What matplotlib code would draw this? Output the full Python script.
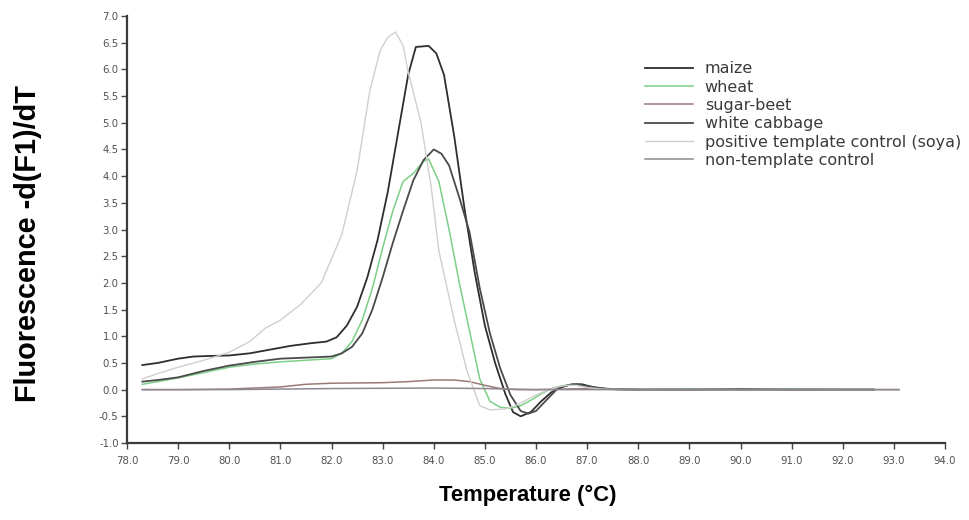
import matplotlib
matplotlib.use("Agg")
import matplotlib.pyplot as plt

# ---------------- data ----------------
maize_t = [78.3, 78.6, 79.0, 79.3, 79.6, 80.0, 80.4, 80.8, 81.2, 81.6, 81.9, 82.1, 82.3, 82.5,
           82.7, 82.9, 83.1, 83.3, 83.5, 83.65, 83.9, 84.05, 84.2, 84.4, 84.6, 84.8, 85.0, 85.2,
           85.4, 85.55, 85.7, 85.9, 86.1, 86.3, 86.5, 86.7, 86.9, 87.1, 87.4, 88.0, 89.0, 90.0,
           91.0, 92.0, 92.6]
maize_v = [0.46, 0.50, 0.58, 0.62, 0.63, 0.64, 0.68, 0.75, 0.82, 0.87, 0.90, 0.98, 1.20, 1.55,
           2.10, 2.80, 3.70, 4.80, 5.90, 6.42, 6.44, 6.30, 5.90, 4.75, 3.40, 2.20, 1.20, 0.50,
           -0.08, -0.42, -0.50, -0.42, -0.22, -0.05, 0.05, 0.10, 0.10, 0.05, 0.01, 0.0, 0.0, 0.01,
           0.0, 0.0, 0.0]

wheat_t = [78.3, 78.6, 79.0, 79.5, 80.0, 80.5, 81.0, 81.5, 82.0, 82.2, 82.4, 82.6, 82.8, 83.0,
           83.2, 83.4, 83.6, 83.8, 83.9, 84.1, 84.3, 84.5, 84.7, 84.9, 85.1, 85.3, 85.5, 85.7,
           85.9, 86.1, 86.3, 86.5, 86.7, 86.9, 87.1, 87.4, 88.0, 89.0, 90.0, 91.0, 92.0, 92.6]
wheat_v = [0.10, 0.15, 0.22, 0.32, 0.42, 0.48, 0.52, 0.55, 0.58, 0.68, 0.90, 1.30, 1.90, 2.65,
           3.35, 3.90, 4.05, 4.28, 4.32, 3.90, 3.00, 2.00, 1.10, 0.20, -0.22, -0.33, -0.35, -0.30,
           -0.20, -0.08, 0.02, 0.07, 0.09, 0.07, 0.03, 0.01, 0.0, 0.01, 0.0, 0.01, 0.0, 0.0]

beet_t = [78.3, 79.0, 80.0, 81.0, 81.5, 82.0, 83.0, 83.5, 84.0, 84.4, 84.7, 85.0, 85.3, 85.6,
          86.0, 87.0, 88.0, 89.0, 90.0, 91.0, 92.0, 93.1]
beet_v = [0.0, 0.0, 0.01, 0.05, 0.10, 0.12, 0.13, 0.15, 0.18, 0.18, 0.15, 0.08, 0.02, 0.0,
          0.0, 0.02, 0.0, 0.0, 0.0, 0.0, 0.0, 0.0]

cabbage_t = [78.3, 78.6, 79.0, 79.5, 80.0, 80.5, 81.0, 81.5, 82.0, 82.2, 82.4, 82.6, 82.8, 83.0,
             83.2, 83.4, 83.6, 83.8, 84.0, 84.15, 84.3, 84.5, 84.7, 84.9, 85.1, 85.3, 85.5, 85.7,
             85.85, 86.0, 86.2, 86.4, 86.6, 86.8, 87.0, 87.2, 87.5, 88.0, 89.0, 90.0, 91.0, 92.0,
             92.6]
cabbage_v = [0.15, 0.18, 0.23, 0.35, 0.45, 0.52, 0.58, 0.60, 0.62, 0.68, 0.80, 1.05, 1.50, 2.10,
             2.75, 3.35, 3.92, 4.30, 4.50, 4.42, 4.20, 3.60, 2.95, 1.90, 1.05, 0.40, -0.10, -0.40,
             -0.45, -0.40, -0.20, 0.0, 0.08, 0.10, 0.07, 0.03, 0.01, 0.0, 0.0, 0.0, 0.0, 0.0, 0.0]

soya_t = [78.3, 78.6, 79.0, 79.5, 80.0, 80.4, 80.7, 81.0, 81.4, 81.8, 82.2, 82.5, 82.75, 82.95,
          83.1, 83.25, 83.4, 83.5, 83.75, 83.95, 84.1, 84.4, 84.65, 84.9, 85.1, 85.4, 85.6, 85.8,
          86.0, 86.2, 86.4, 86.6, 86.8, 87.0, 87.3, 88.0, 89.0, 90.0, 91.0, 92.0, 93.1]
soya_v = [0.20, 0.30, 0.42, 0.55, 0.70, 0.90, 1.15, 1.30, 1.60, 2.00, 2.90, 4.10, 5.60, 6.35,
          6.60, 6.70, 6.45, 5.95, 5.00, 3.80, 2.60, 1.30, 0.35, -0.30, -0.38, -0.36, -0.30, -0.20,
          -0.10, -0.02, 0.05, 0.08, 0.08, 0.04, 0.01, 0.0, 0.0, 0.0, 0.0, 0.0, 0.0]

ntc_t = [78.3, 80.0, 82.0, 84.0, 85.0, 86.0, 88.0, 90.0, 92.0, 93.1]
ntc_v = [0.0, 0.0, 0.02, 0.03, 0.02, 0.0, 0.0, 0.0, 0.0, 0.0]

labels = ["maize", "wheat", "sugar-beet", "white cabbage",
          "positive template control (soya)", "non-template control"]
colors = ["#2e2e2e", "#7ccf86", "#9b7b78", "#4a4a4a", "#cfcfcf", "#8e8792"]
widths = [1.3, 1.1, 1.1, 1.3, 1.0, 1.1]

x_ticks = [78.0 + i for i in range(17)]
y_ticks = [-1.0 + 0.5 * i for i in range(17)]

# ---------------- plot ----------------
fig = plt.figure(figsize=(9.69, 5.20), dpi=100)
ax = fig.add_axes([127 / 969, 1 - 443 / 520, 818 / 969, 427 / 520])

series = [(maize_t, maize_v), (wheat_t, wheat_v), (beet_t, beet_v),
          (cabbage_t, cabbage_v), (soya_t, soya_v), (ntc_t, ntc_v)]
draw_order = [5, 2, 4, 1, 3, 0]
lines = {}
for i in draw_order:
    t, v = series[i]
    ln, = ax.plot(t, v, color=colors[i], lw=widths[i], label=labels[i], zorder=2 + i * 0.1)
    lines[i] = ln

ax.set_xlim(78.0, 94.0)
ax.set_ylim(-1.0, 7.0)
ax.set_xticks(x_ticks)
ax.set_xticklabels([f"{x:.1f}" for x in x_ticks])
ax.set_yticks(y_ticks)
ax.set_yticklabels([f"{y:.1f}" for y in y_ticks])

for s in ["top", "right"]:
    ax.spines[s].set_visible(False)
for s in ["left", "bottom"]:
    ax.spines[s].set_color("#3a3a3a")
    ax.spines[s].set_linewidth(1.6)

ax.tick_params(axis="both", direction="out", length=4, width=1.0, color="#444444",
               labelsize=7.3, labelcolor="#505050")
ax.tick_params(axis="x", pad=5)
ax.tick_params(axis="y", pad=2)

ax.set_xlabel("Temperature (°C)", fontsize=15.8, fontweight="bold",
              family="Liberation Sans")
ax.set_ylabel("Fluorescence -d(F1)/dT", fontsize=20.8, fontweight="bold",
              family="Liberation Sans")
ax.xaxis.set_label_coords(0.49, -0.097)
ax.yaxis.set_label_coords(-0.104, 0.468)

handles = [lines[i] for i in range(6)]
leg = ax.legend(handles, labels, loc="upper left", bbox_to_anchor=(0.633, 0.894),
                frameon=False, fontsize=11.5, handlelength=3.0, handletextpad=0.75,
                labelspacing=0.21, borderpad=0, borderaxespad=0)
for txt in leg.get_texts():
    txt.set_color("#3a3a3a")

fig.savefig("out.png", dpi=100)
